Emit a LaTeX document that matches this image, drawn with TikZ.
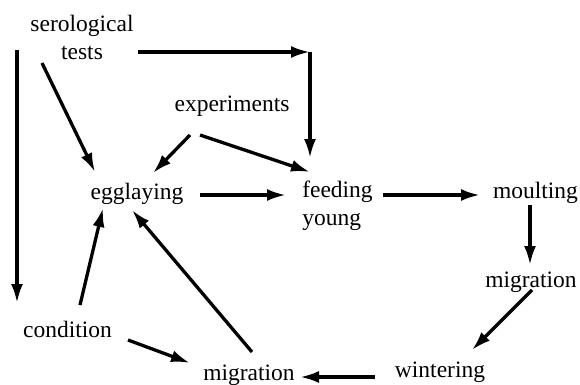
\documentclass[tikz,border=0pt]{standalone}
\usepackage{fontspec}
\setmainfont{Liberation Serif}
\usepackage{tikz}
\usetikzlibrary{arrows.meta,positioning}

\begin{document}
\begin{tikzpicture}[x=1pt,y=1pt,
    lbl/.style={inner sep=0pt, font=\fontsize{23.5}{28}\selectfont},
    arr/.style={line width=3.3pt, -{Latex[length=19pt,width=12pt]}}]
    \useasboundingbox (0,0) rectangle (580,384);

    % stages
    \node[lbl, align=center] (sero) at (82,346.5) {serological\\tests};
    \node[lbl] (exper) at (232,278) {experiments};
    \node[lbl] (egg) at (137,190) {egglaying};
    \node[lbl, align=left] (feed) at (337.5,178) {feeding\\young};
    \node[lbl] (moult) at (535.5,191) {moulting};
    \node[lbl] (migr) at (531,102) {migration};
    \node[lbl] (winter) at (440,12) {wintering};
    \node[lbl] (migb) at (249,9) {migration};
    \node[lbl] (cond) at (67.5,55) {condition};

    \coordinate (bend) at ([shift={(-27.5,154)}]feed.center);

    \draw[arr] ([shift={(-65,-12.5)}]sero.center) -- ([shift={(-50.5,26)}]cond.center);
    \draw[arr] ([shift={(56,-14.5)}]sero.center) -- (bend);
    \draw[arr] (bend) -- ([shift={(-27.5,48)}]feed.center);
    \draw[arr] ([shift={(-40,-25.5)}]sero.center) -- ([shift={(-42,22)}]egg.center);
    \draw[arr] ([shift={(-42,-29)}]exper.center) -- ([shift={(16,21)}]egg.center);
    \draw[arr] ([shift={(-32,-29)}]exper.center) -- ([shift={(-27.5,34)}]feed.center);
    \draw[arr] ([shift={(63,-1)}]egg.center) -- ([shift={(-51.5,11)}]feed.center);
    \draw[arr] ([shift={(45.5,11)}]feed.center) -- ([shift={(-55.5,-2)}]moult.center);
    \draw[arr] ([shift={(-5.5,-12)}]moult.center) -- ([shift={(-1,17)}]migr.center);
    \draw[arr] ([shift={(1,-8)}]migr.center) -- ([shift={(32,22)}]winter.center);
    \draw[arr] ([shift={(-65,-5)}]winter.center) -- ([shift={(51,-2)}]migb.center);
    \draw[arr] ([shift={(12.5,24)}]cond.center) -- ([shift={(-34,-14)}]egg.center);
    \draw[arr] ([shift={(60.5,-11)}]cond.center) -- ([shift={(-59,12)}]migb.center);
    \draw[arr] ([shift={(3,23)}]migb.center) -- ([shift={(-5,-16)}]egg.center);
\end{tikzpicture}
\end{document}
